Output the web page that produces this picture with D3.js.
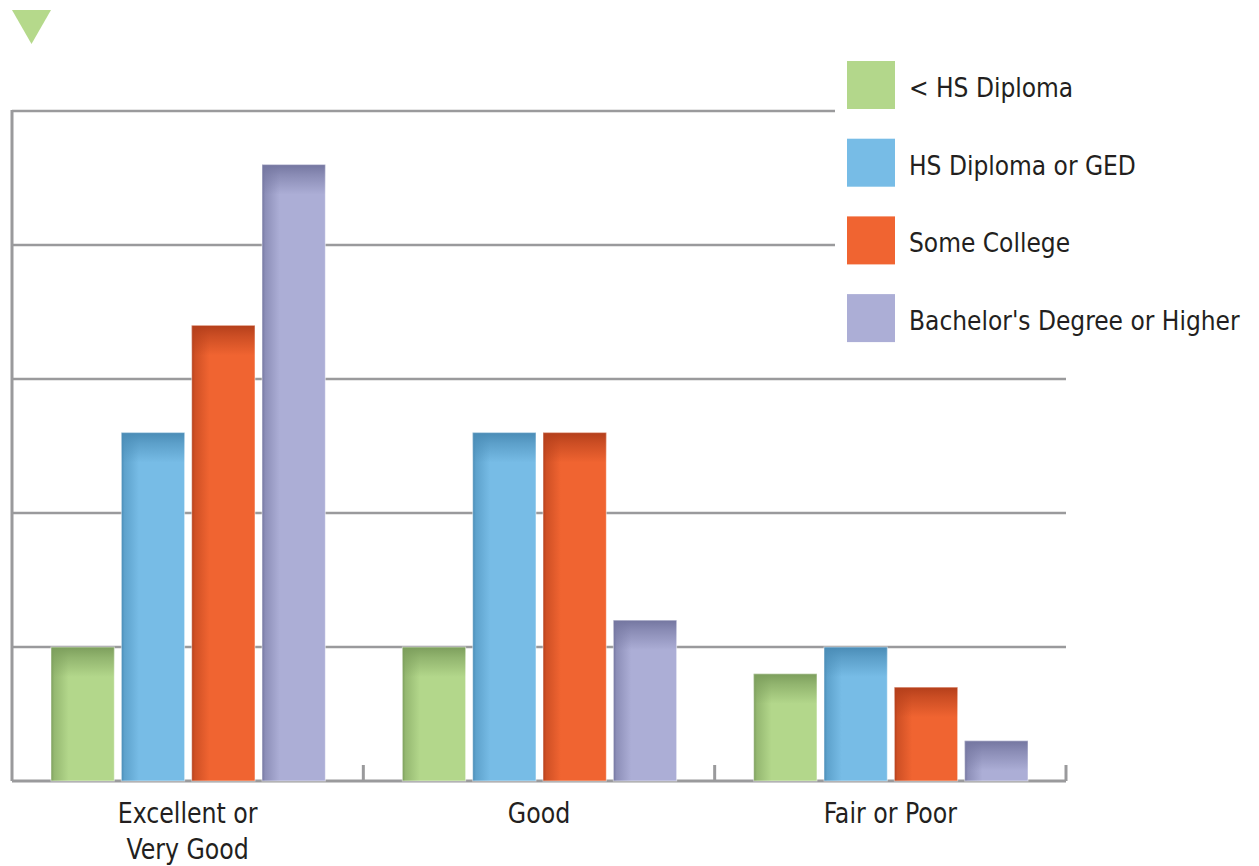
<!DOCTYPE html>
<html>
<head>
<meta charset="utf-8">
<script src="https://cdn.jsdelivr.net/npm/d3@7"></script>
<style>
  body { margin: 0; background: #fff; }
  text { font-family: "DejaVu Sans Condensed", "DejaVu Sans", sans-serif; font-stretch: condensed; fill: #231f20; }
</style>
</head>
<body>
<svg id="chart" width="1259" height="866"></svg>
<script>
// data (percent)
const categories = ["Excellent or|Very Good", "Good", "Fair or Poor"];
const series = ["< HS Diploma", "HS Diploma or GED", "Some College", "Bachelor's Degree or Higher"];
const lessHS = [10, 10, 8];
const hsGed = [26, 26, 10];
const someCollege = [34, 26, 7];
const bachelor = [46, 12, 3];
const yTicks = [10, 20, 30, 40, 50];

const colors = ["#b3d78b", "#77bce6", "#f06431", "#acaed6"];
const darks = ["#7c9e5c", "#4a8cb6", "#b43f1b", "#7476a0"];
const values = [lessHS, hsGed, someCollege, bachelor];

const svg = d3.select("#chart");
const defs = svg.append("defs");

colors.forEach((c, i) => {
  const h = defs.append("linearGradient").attr("id", "h" + i)
    .attr("x1", 0).attr("x2", 1).attr("y1", 0).attr("y2", 0);
  h.append("stop").attr("offset", 0).attr("stop-color", darks[i]).attr("stop-opacity", 1);
  h.append("stop").attr("offset", 0.05).attr("stop-color", d3.interpolateRgb(darks[i], c)(0.45));
  h.append("stop").attr("offset", 0.28).attr("stop-color", c);
  h.append("stop").attr("offset", 1).attr("stop-color", c);
  const v = defs.append("linearGradient").attr("id", "v" + i)
    .attr("x1", 0).attr("x2", 0).attr("y1", 0).attr("y2", 1);
  v.append("stop").attr("offset", 0).attr("stop-color", darks[i]).attr("stop-opacity", 1);
  v.append("stop").attr("offset", 0.35).attr("stop-color", darks[i]).attr("stop-opacity", 0.6);
  v.append("stop").attr("offset", 1).attr("stop-color", darks[i]).attr("stop-opacity", 0);
});

const mLeft = 12, mRight = 1066, mTop = 111, mBottom = 781;

const x0 = d3.scaleBand().domain(categories).range([mLeft, mRight]);
const x1 = d3.scaleBand().domain(series).range([39, x0.bandwidth() - 38]).paddingInner(0.1);
const y = d3.scaleLinear().domain([0, 50]).range([mBottom, mTop]);

// squeeze text a little to match the narrow face of the original
function squeeze(sel, k) {
  sel.each(function() {
    const w = this.getComputedTextLength();
    d3.select(this).attr("textLength", w * k).attr("lengthAdjust", "spacingAndGlyphs");
  });
}

// gridlines
svg.append("g").selectAll("line").data(yTicks).join("line")
  .attr("x1", mLeft).attr("x2", mRight)
  .attr("y1", d => y(d)).attr("y2", d => y(d))
  .attr("stroke", "#9a9a9c").attr("stroke-width", 2.5);

// left axis
svg.append("line").attr("x1", mLeft).attr("x2", mLeft).attr("y1", mTop - 1).attr("y2", mBottom)
  .attr("stroke", "#9a9a9c").attr("stroke-width", 3);

// baseline + ticks
svg.append("line").attr("x1", mLeft).attr("x2", mRight).attr("y1", mBottom).attr("y2", mBottom)
  .attr("stroke", "#9a9a9c").attr("stroke-width", 3);
svg.append("g").selectAll("line").data(categories.slice(1).concat(["end"])).join("line")
  .attr("x1", d => d === "end" ? mRight : x0(d)).attr("x2", d => d === "end" ? mRight : x0(d))
  .attr("y1", mBottom).attr("y2", mBottom - 16)
  .attr("stroke", "#9a9a9c").attr("stroke-width", 3);

// bars
const groups = svg.append("g").selectAll("g").data(categories).join("g")
  .attr("transform", d => `translate(${x0(d)},0)`);

groups.each(function(cat, ci) {
  const g = d3.select(this);
  series.forEach((s, si) => {
    const v = values[si][ci];
    const bx = x1(s), by = y(v), bh = y(0) - y(v), bw = x1.bandwidth();
    g.append("rect").attr("x", bx).attr("y", by).attr("width", bw).attr("height", bh)
      .attr("fill", `url(#h${si})`);
    g.append("rect").attr("x", bx).attr("y", by).attr("width", bw).attr("height", Math.min(30, bh))
      .attr("fill", `url(#v${si})`);
    g.append("rect").attr("x", bx).attr("y", by).attr("width", bw).attr("height", bh)
      .attr("fill", "none").attr("stroke", "#ffffff").attr("stroke-opacity", 0.5).attr("stroke-width", 1);
  });
});

// category labels
const catText = groups.append("text")
  .attr("text-anchor", "middle")
  .attr("font-size", 28);
catText.each(function(d) {
  const lines = d.split("|");
  d3.select(this).selectAll("tspan").data(lines).join("tspan")
    .attr("x", x0.bandwidth() / 2)
    .attr("y", (l, i) => 823 + i * 36)
    .text(l => l);
});
squeeze(catText.selectAll("tspan"), 0.94);

// legend
svg.append("rect").attr("x", 835).attr("y", 50).attr("width", 424).attr("height", 305).attr("fill", "#fff");
const leg = svg.append("g").selectAll("g").data(series).join("g")
  .attr("transform", (d, i) => `translate(847,${61 + i * 77.7})`);
leg.append("rect").attr("width", 48).attr("height", 48).attr("fill", (d, i) => colors[i]);
leg.append("text").attr("x", 62).attr("y", 36).attr("font-size", 26).text(d => d);

// triangle marker
svg.append("path").attr("d", "M12,10 L51,10 L31.5,44 Z").attr("fill", "#b5d98b");
</script>
</body>
</html>
